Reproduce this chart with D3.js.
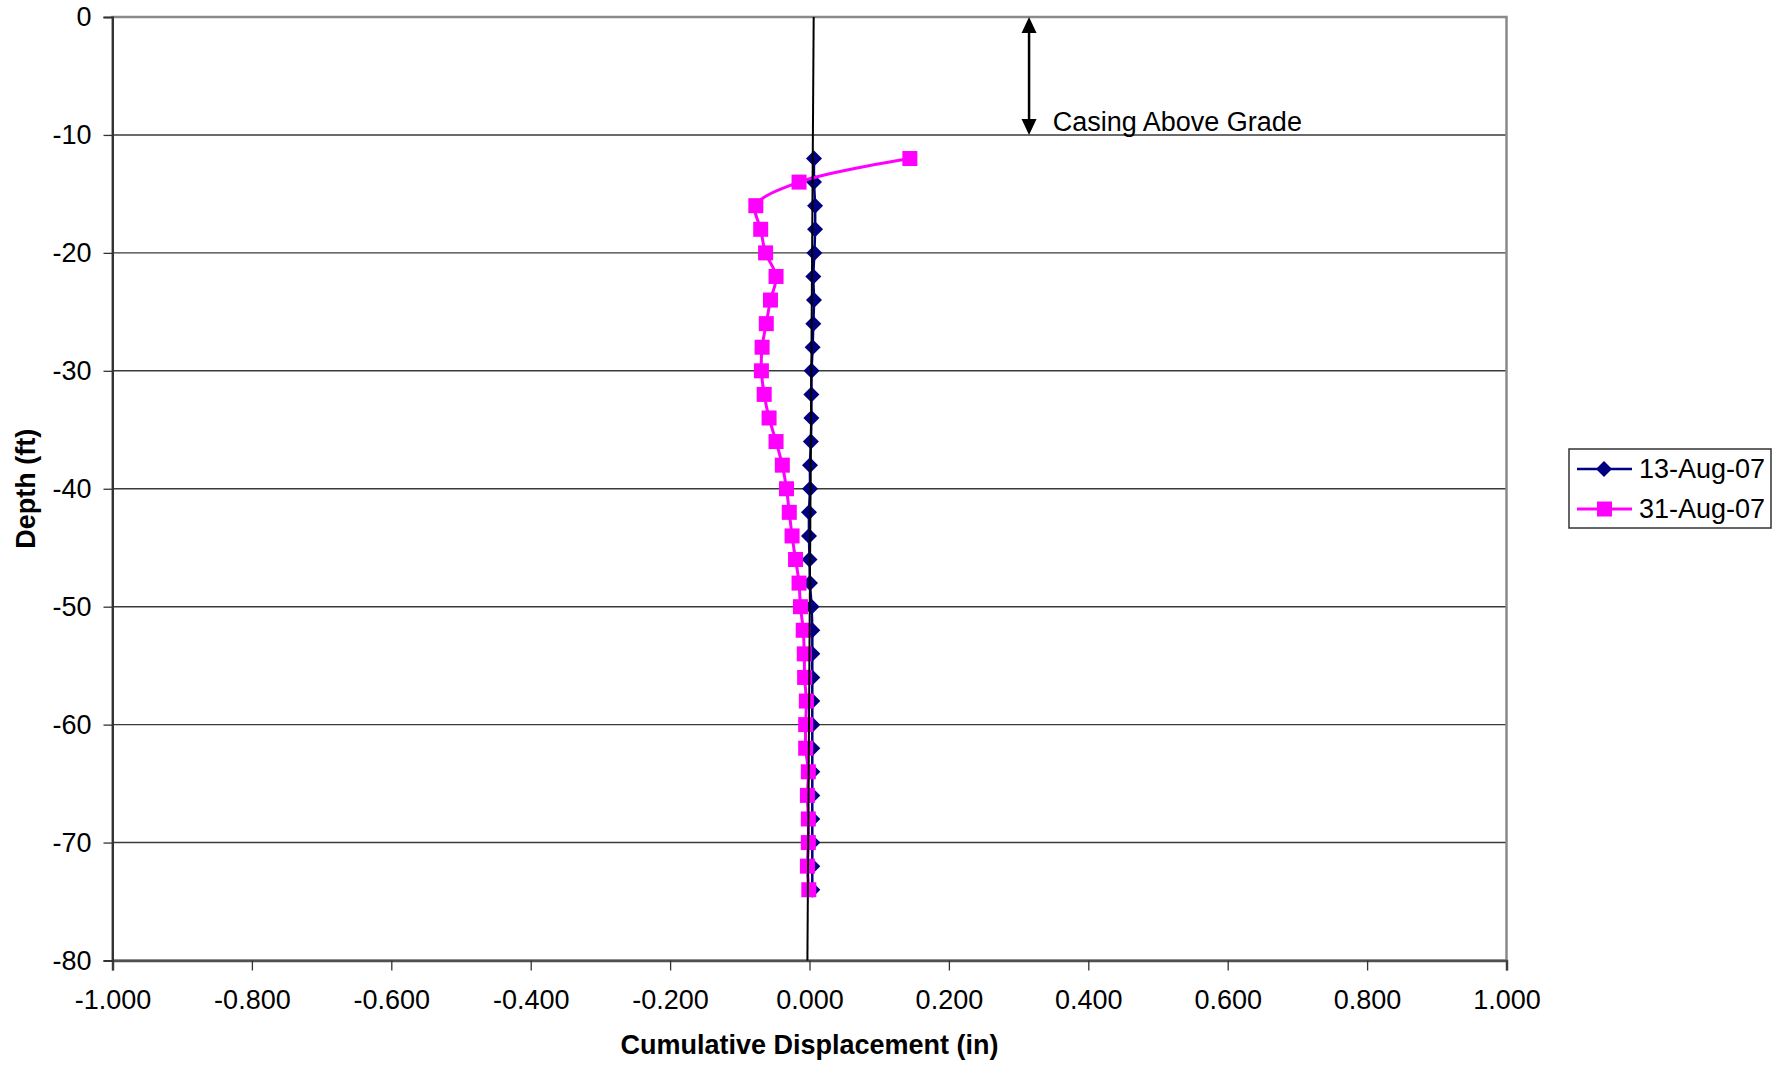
<!DOCTYPE html>
<html><head><meta charset="utf-8">
<script src="https://cdn.jsdelivr.net/npm/d3@7"></script>
<style>
html,body{margin:0;padding:0;background:#fff;}
text{font-family:"Liberation Sans",Arial,sans-serif;fill:#000;}
</style></head>
<body><svg id="chart" width="1780" height="1065"></svg>
<script>
// ---- data ----
const depths = [-12,-14,-16,-18,-20,-22,-24,-26,-28,-30,-32,-34,-36,-38,-40,-42,-44,-46,-48,-50,-52,-54,-56,-58,-60,-62,-64,-66,-68,-70,-72,-74];
const aug13 = [0.0065,0.0065,0.008,0.008,0.007,0.0055,0.0065,0.0055,0.0045,0.003,0.0027,0.0027,0.002,0.0007,0.0007,-0.0007,-0.0007,0.0,0.0007,0.003,0.004,0.004,0.004,0.004,0.004,0.004,0.004,0.004,0.004,0.004,0.004,0.004];
const aug31 = [0.144,-0.015,-0.077,-0.070,-0.063,-0.048,-0.056,-0.062,-0.068,-0.069,-0.065,-0.058,-0.048,-0.039,-0.033,-0.029,-0.025,-0.020,-0.015,-0.013,-0.009,-0.0075,-0.007,-0.0045,-0.0055,-0.0055,-0.0017,-0.003,-0.0017,-0.0017,-0.003,-0.001];
const seriesNames = ["13-Aug-07","31-Aug-07"];
const refLineX = [0.006,-0.003];
const refLineDepth = [0,-80];
const xTicks = [-1,-0.8,-0.6,-0.4,-0.2,0,0.2,0.4,0.6,0.8,1];
const xTickLabels = ["-1.000","-0.800","-0.600","-0.400","-0.200","0.000","0.200","0.400","0.600","0.800","1.000"];
const yTicks = [0,-10,-20,-30,-40,-50,-60,-70,-80];
const yTickLabels = ["0","-10","-20","-30","-40","-50","-60","-70","-80"];
const arrowX = 0.315, arrowDepths = [0,-10];
const noteText = "Casing Above Grade";
const noteX = 0.349, noteDepth = -9.7;

// ---- layout ----
const L = 112.5, R = 1506.5, T = 17, B = 960.5;
const FS = 27;
const svg = d3.select("#chart");
const x = d3.scaleLinear().domain([-1,1]).range([L,R]);
const y = d3.scaleLinear().domain([0,-80]).range([T,B]);
const diamond = (h) => `M0,${-h}L${h},0L0,${h}L${-h},0Z`;

// gridlines
svg.append("g").selectAll("line").data(yTicks.filter(d=>d!==0 && d!==-80)).join("line")
  .attr("x1",L).attr("x2",R).attr("y1",d=>y(d)).attr("y2",d=>y(d))
  .attr("stroke","#3a3a3a").attr("stroke-width",1.4);

// plot border
svg.append("rect").attr("x",L).attr("y",T).attr("width",R-L).attr("height",B-T)
  .attr("fill","none").attr("stroke","#8a8a8a").attr("stroke-width",2.5);

// axes
const xAxis = d3.axisBottom(x).tickValues(xTicks).tickFormat((d,i)=>xTickLabels[i]).tickSize(10).tickPadding(19);
const gx = svg.append("g").attr("transform",`translate(0,${B})`).call(xAxis);
gx.select(".domain").attr("stroke","#505050").attr("stroke-width",2.5);
gx.selectAll(".tick line").attr("stroke","#333").attr("stroke-width",1.3);
gx.selectAll(".tick text").attr("font-size",FS).attr("font-family","Liberation Sans, Arial");

const yAxis = d3.axisLeft(y).tickValues(yTicks).tickFormat((d,i)=>yTickLabels[i]).tickSize(9).tickPadding(12);
const gy = svg.append("g").attr("transform",`translate(${L},0)`).call(yAxis);
gy.select(".domain").attr("stroke","#333").attr("stroke-width",2);
gy.selectAll(".tick line").attr("stroke","#333").attr("stroke-width",1.3);
gy.selectAll(".tick text").attr("font-size",FS).attr("font-family","Liberation Sans, Arial");

// axis titles
svg.append("text").attr("x",(L+R)/2).attr("y",1054).attr("text-anchor","middle")
  .attr("font-size",FS).attr("font-weight","bold").text("Cumulative Displacement (in)");
svg.append("text").attr("transform",`translate(35,${(T+B)/2}) rotate(-90)`).attr("text-anchor","middle")
  .attr("font-size",FS).attr("font-weight","bold").text("Depth (ft)");

// series
const curve = d3.curveCatmullRom.alpha(0.5);
const line = d3.line().x(d=>x(d[0])).y(d=>y(d[1])).curve(curve);
const s1 = aug13.map((v,i)=>[v,depths[i]]);
const s2 = aug31.map((v,i)=>[v,depths[i]]);

svg.append("path").attr("d",line(s1)).attr("fill","none").attr("stroke","#000080").attr("stroke-width",2.5);
svg.append("g").selectAll("path").data(s1).join("path")
  .attr("d",diamond(8))
  .attr("transform",d=>`translate(${x(d[0])},${y(d[1])})`)
  .attr("fill","#000080");

svg.append("path").attr("d",line(s2)).attr("fill","none").attr("stroke","#ff00ff").attr("stroke-width",3);
svg.append("g").selectAll("rect").data(s2).join("rect")
  .attr("x",d=>x(d[0])-7.5).attr("y",d=>y(d[1])-7.5).attr("width",15).attr("height",15)
  .attr("fill","#ff00ff");

// reference line
svg.append("line").attr("x1",x(refLineX[0])).attr("y1",y(refLineDepth[0]))
  .attr("x2",x(refLineX[1])).attr("y2",y(refLineDepth[1]))
  .attr("stroke","#000").attr("stroke-width",2);

// arrow annotation
const ax = x(arrowX), ay1 = y(arrowDepths[0]), ay2 = y(arrowDepths[1]);
svg.append("line").attr("x1",ax).attr("x2",ax).attr("y1",ay1+10).attr("y2",ay2-10)
  .attr("stroke","#000").attr("stroke-width",2.5);
svg.append("path").attr("d",`M${ax},${ay1} L${ax-7.5},${ay1+16} L${ax+7.5},${ay1+16} Z`).attr("fill","#000");
svg.append("path").attr("d",`M${ax},${ay2} L${ax-7.5},${ay2-16} L${ax+7.5},${ay2-16} Z`).attr("fill","#000");
svg.append("text").attr("x",x(noteX)).attr("y",y(noteDepth)).attr("font-size",FS).text(noteText);

// legend
const lg = svg.append("g").attr("transform","translate(1569,449)");
lg.append("rect").attr("x",0).attr("y",0).attr("width",202).attr("height",79)
  .attr("fill","#fff").attr("stroke","#333").attr("stroke-width",1.5);
const colors = ["#000080","#ff00ff"];
seriesNames.forEach((n,i)=>{
  const cy = 20 + i*40;
  lg.append("line").attr("x1",8).attr("x2",63).attr("y1",cy).attr("y2",cy).attr("stroke",colors[i]).attr("stroke-width",i?3:2.5);
  if(i===0){
    lg.append("path").attr("d",diamond(8)).attr("transform",`translate(35,${cy})`).attr("fill",colors[i]);
  } else {
    lg.append("rect").attr("x",28).attr("y",cy-7.5).attr("width",15).attr("height",15).attr("fill",colors[i]);
  }
  lg.append("text").attr("x",70).attr("y",cy).attr("dy","0.35em").attr("font-size",FS).text(n);
});
</script></body></html>
